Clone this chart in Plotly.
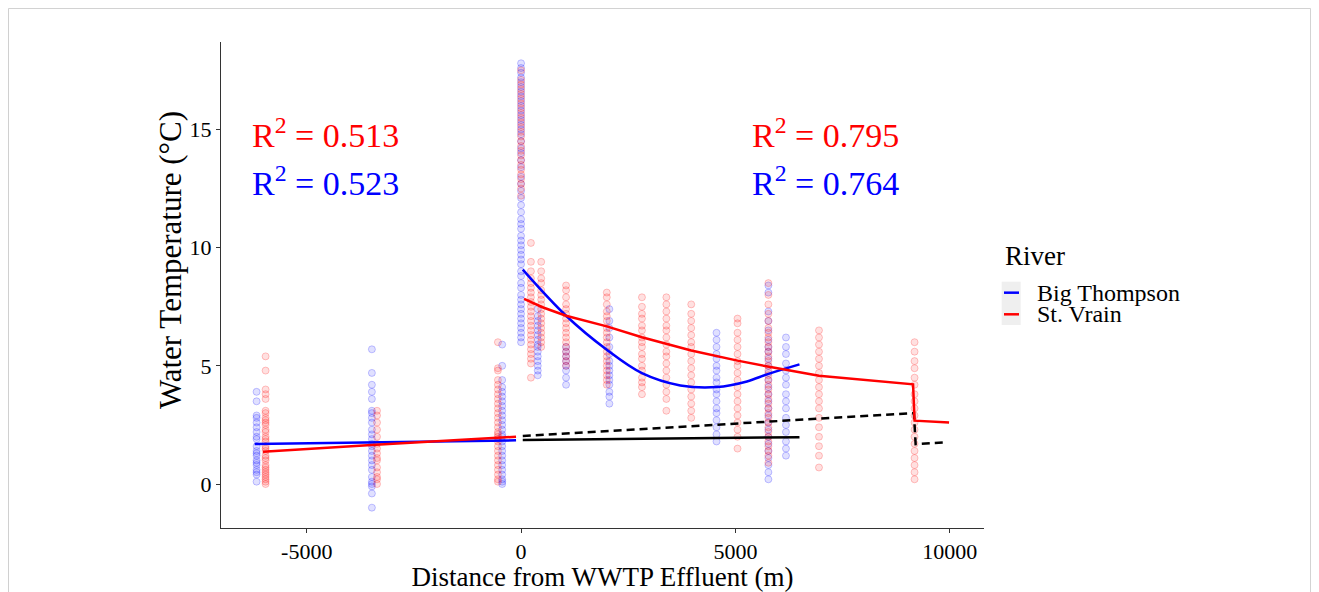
import plotly.graph_objects as go

# sampling sites (m from the WWTP effluent) and temperatures read per site
BT_DIST = [-6170, -3480, -440, 0, 390, 1050, 2060, 4560, 5770, 6180]
BT_TEMPS = [
    [3.9, 3.5, 2.9, 2.8, 2.6, 2.4, 2.2, 2.0, 1.9, 1.6, 1.4, 1.3, 1.2, 1.0, 0.9, 0.8, 0.6, 0.5, 0.4, 0.1],
    [5.7, 4.7, 4.2, 3.9, 3.6, 3.1, 3.0, 2.8, 2.6, 2.3, 2.1, 1.9, 1.7, 1.6, 1.4, 1.2, 1.0, 0.8, 0.6, 0.3,
     0.1, 0.0, -0.1, -0.4, -1.0],
    [5.9, 5.0, 4.4, 4.1, 3.9, 3.7, 3.5, 3.3, 3.1, 2.9, 2.7, 2.5, 2.3, 2.1, 2.0, 1.8, 1.6, 1.4, 1.2, 1.0,
     0.8, 0.6, 0.4, 0.2, 0.1, 0.0],
    [17.8, 17.6, 17.4, 17.2, 17.0, 16.8, 16.6, 16.4, 16.2, 16.0, 15.8, 15.6, 15.4, 15.2, 15.0, 14.8, 14.5,
     14.2, 14.0, 13.7, 13.4, 13.0, 12.7, 12.4, 12.1, 11.8, 11.5, 11.2, 11.0, 10.8, 10.5, 10.3, 10.1, 9.9,
     9.7, 9.5, 9.3, 9.0, 8.8, 8.5, 8.3, 8.0, 7.8, 7.6, 7.4, 7.2, 7.0, 6.8, 6.6, 6.4, 6.2, 6.0],
    [7.4, 7.1, 6.9, 6.7, 6.5, 6.3, 6.1, 5.9, 5.8, 5.6, 5.4, 5.2, 5.0, 4.8, 4.6],
    [5.8, 5.6, 5.4, 5.2, 5.0, 4.8, 4.5, 4.2],
    [7.4, 6.9, 6.6, 6.2, 5.8, 5.5, 5.2, 5.0, 4.8, 4.6, 4.4, 4.2, 3.9, 3.7, 3.4],
    [6.4, 6.1, 5.8, 5.5, 5.3, 5.0, 4.8, 4.5, 4.3, 4.0, 3.8, 3.5, 3.2, 3.0, 2.7, 2.4, 2.1, 1.8],
    [8.4, 8.1, 7.3, 6.9, 6.5, 6.1, 5.8, 5.6, 5.3, 5.0, 4.7, 4.4, 4.1, 3.8, 3.5, 3.2, 2.9, 2.6, 2.3, 2.0,
     1.7, 1.4, 1.1, 0.8, 0.5, 0.2],
    [6.2, 5.8, 5.5, 5.1, 4.8, 4.5, 4.2, 3.8, 3.5, 3.2, 2.8, 2.5, 2.2, 1.8, 1.5, 1.2],
]

SV_DIST = [-5960, -3360, -540, 0, 230, 470, 1050, 2000, 2820, 3390, 3970, 5050, 5770, 6950, 9180]
SV_TEMPS = [
    [5.4, 4.8, 4.0, 3.8, 3.6, 3.1, 3.0, 2.8, 2.7, 2.6, 2.5, 2.3, 2.2, 2.0, 1.9, 1.8, 1.6, 1.5, 1.4, 1.2,
     1.1, 1.0, 0.8, 0.7, 0.6, 0.5, 0.4, 0.3, 0.2, 0.1, 0.0],
    [3.1, 2.9, 2.6, 2.3, 2.0, 1.7, 1.5, 1.3, 1.1, 1.0, 0.7, 0.5, 0.3, 0.2, 0.0],
    [6.0, 4.9, 4.8, 4.4, 4.2, 4.0, 3.8, 3.6, 3.4, 3.2, 3.0, 2.8, 2.6, 2.4, 2.2, 2.1, 2.0, 1.9, 1.8, 1.6,
     1.4, 1.2, 1.0, 0.8, 0.6, 0.4, 0.2, 0.1],
    [17.5, 17.1, 16.9, 16.7, 16.5, 16.3, 16.1, 15.9, 15.7, 15.5, 15.3, 15.1, 14.9, 14.7, 14.5, 14.3, 14.1,
     13.9, 13.7, 13.5, 13.3, 13.1, 12.9, 12.7, 12.5, 12.2],
    [10.2, 9.4, 9.0, 8.7, 8.5, 8.3, 8.1, 7.9, 7.7, 7.5, 7.3, 7.1, 6.9, 6.7, 6.5, 6.3, 6.1, 5.9, 5.7, 5.5,
     5.3, 5.1, 4.5],
    [9.4, 9.0, 8.7, 8.5, 8.2, 8.0, 7.8, 7.6, 7.4, 7.2, 7.0, 6.8, 6.6, 6.4, 6.2, 6.0, 5.8],
    [8.4, 8.2, 7.9, 7.6, 7.4, 7.2, 7.0, 6.8, 6.6, 6.4, 6.2, 6.0, 5.8, 5.6, 5.4, 5.2, 5.0],
    [8.1, 7.9, 7.6, 7.3, 7.1, 6.9, 6.6, 6.4, 6.2, 6.0, 5.8, 5.6, 5.4, 5.2, 5.0, 4.8, 4.6, 4.4, 4.2],
    [7.9, 7.5, 7.2, 7.0, 6.7, 6.5, 6.2, 6.0, 5.8, 5.5, 5.3, 5.0, 4.8, 4.5, 4.3, 4.1, 3.8],
    [7.9, 7.6, 7.3, 7.0, 6.7, 6.5, 6.2, 5.9, 5.6, 5.4, 5.1, 4.8, 4.5, 4.2, 3.9, 3.6, 3.1],
    [7.6, 7.2, 6.9, 6.6, 6.3, 6.0, 5.8, 5.5, 5.2, 4.9, 4.6, 4.3, 4.0, 3.7, 3.4, 3.1, 2.8],
    [7.0, 6.8, 6.4, 6.1, 5.8, 5.5, 5.2, 5.0, 4.7, 4.4, 4.1, 3.8, 3.5, 3.2, 2.9, 2.6, 2.3, 2.0, 1.5],
    [8.5, 8.0, 7.6, 7.2, 6.9, 6.6, 6.4, 6.2, 6.0, 5.8, 5.6, 5.4, 5.2, 5.0, 4.8, 4.6, 4.4, 4.2, 4.0, 3.8,
     3.6, 3.4, 3.2, 3.0, 2.8, 2.6, 2.4, 2.2, 2.0, 1.8, 1.6, 1.4, 1.2, 0.9],
    [6.5, 6.2, 5.9, 5.6, 5.3, 5.0, 4.7, 4.4, 4.1, 3.8, 3.5, 3.2, 2.8, 2.4, 2.0, 1.6, 1.2, 0.7],
    [6.0, 5.6, 5.2, 4.9, 4.5, 4.2, 3.8, 3.5, 3.2, 2.9, 2.6, 2.3, 2.0, 1.7, 1.4, 1.1, 0.8, 0.5, 0.2],
]

# fitted lines
BT_UP_X = [-6215, -117]
BT_UP_Y = [1.69, 1.85]
SV_UP_X = [-6020, -3490, -117]
SV_UP_Y = [1.37, 1.65, 2.0]
BT_DOWN_X = [40, 1050, 2000, 2820, 3715, 4570, 5270, 5755, 6495]
BT_DOWN_Y = [9.07, 7.12, 5.68, 4.69, 4.17, 4.10, 4.34, 4.65, 5.06]
SV_DOWN_X = [70, 500, 1050, 2000, 2820, 3970, 5050, 5755, 6950, 8000, 9145, 9180, 9985]
SV_DOWN_Y = [7.83, 7.48, 7.12, 6.67, 6.21, 5.65, 5.22, 4.97, 4.58, 4.40, 4.22, 2.68, 2.60]
DASH_X = [40, 9165, 9205, 9920]
DASH_Y = [2.03, 3.0, 1.69, 1.77]
SOLID_X = [40, 6495]
SOLID_Y = [1.86, 1.98]

X_TICKS = [-5000, 0, 5000, 10000]
X_TICKTEXT = ['-5000', '0', '5000', '10000']
Y_TICKS = [0, 5, 10, 15]

R2_LABELS = [
    (-6330, 14.87, 'R<sup>2</sup> = 0.513', 'red'),
    (-6330, 12.84, 'R<sup>2</sup> = 0.523', 'blue'),
    (5350, 14.87, 'R<sup>2</sup> = 0.795', 'red'),
    (5350, 12.84, 'R<sup>2</sup> = 0.764', 'blue'),
]

RIVERS = ['Big Thompson', 'St. Vrain']
RIVER_COLORS = ['blue', 'red']

FONT = 'Liberation Serif'


def flatten(dists, temps):
    xs, ys = [], []
    for d, t in zip(dists, temps):
        xs += [d] * len(t)
        ys += t
    return xs, ys


fig = go.Figure()

# points first so the fitted lines sit on top
for dists, temps, rgb in [(BT_DIST, BT_TEMPS, '0,0,255'), (SV_DIST, SV_TEMPS, '255,0,0')]:
    xs, ys = flatten(dists, temps)
    fig.add_trace(go.Scatter(
        x=xs, y=ys, mode='markers', showlegend=False, hoverinfo='skip',
        marker=dict(size=7, color=f'rgba({rgb},0.12)', line=dict(color=f'rgba({rgb},0.22)', width=1))
    ))

fig.add_trace(go.Scatter(x=DASH_X, y=DASH_Y, mode='lines', showlegend=False,
                         line=dict(color='black', width=2.5, dash='8px,5px')))
fig.add_trace(go.Scatter(x=SOLID_X, y=SOLID_Y, mode='lines', showlegend=False,
                         line=dict(color='black', width=2.5)))

fig.add_trace(go.Scatter(x=BT_DOWN_X, y=BT_DOWN_Y, mode='lines', showlegend=False,
                         line=dict(color='blue', width=2.5, shape='spline')))
fig.add_trace(go.Scatter(x=BT_UP_X, y=BT_UP_Y, mode='lines', showlegend=False,
                         line=dict(color='blue', width=2.5)))
fig.add_trace(go.Scatter(x=SV_DOWN_X, y=SV_DOWN_Y, mode='lines', showlegend=False,
                         line=dict(color='red', width=2.5)))
fig.add_trace(go.Scatter(x=SV_UP_X, y=SV_UP_Y, mode='lines', showlegend=False,
                         line=dict(color='red', width=2.5, shape='spline')))

for x, y, txt, col in R2_LABELS:
    fig.add_annotation(x=x, y=y, text=txt, showarrow=False, xanchor='left', yanchor='middle',
                       font=dict(size=34, color=col, family=FONT))

# y title placed by hand, it sits a bit above the panel centre in the original
fig.add_annotation(x=-0.0668, y=0.5514, xref='paper', yref='paper', text='Water Temperature (°C)',
                   showarrow=False, textangle=-90, xanchor='center', yanchor='middle', font=dict(size=31))

# ggplot-style legend drawn by hand (title, grey key box, key lines, labels)
fig.add_annotation(x=1.0249, y=0.5597, xref='paper', yref='paper', text='River', showarrow=False,
                   xanchor='left', yanchor='middle', font=dict(size=27))
fig.add_shape(type='rect', xref='paper', yref='paper', x0=1.0232, x1=1.0481, y0=0.4177, y1=0.5068,
              fillcolor='#EFEFEF', line=dict(width=0), layer='below')
for i, (name, col) in enumerate(zip(RIVERS, RIVER_COLORS)):
    ky = 0.4842 - i * 0.0445
    fig.add_shape(type='line', xref='paper', yref='paper', x0=1.0262, x1=1.0459, y0=ky, y1=ky,
                  line=dict(color=col, width=2.5))
    fig.add_annotation(x=1.0668, y=ky, xref='paper', yref='paper', text=name, showarrow=False,
                       xanchor='left', yanchor='middle', font=dict(size=24))

# thin frame of the figure panel
fig.add_shape(type='rect', xref='paper', yref='paper', x0=-0.2785, x1=1.4280, y0=-0.2, y1=1.0690,
              fillcolor='rgba(0,0,0,0)', line=dict(color='#D0D0D0', width=1))

fig.update_xaxes(range=[-7000, 10800], tickvals=X_TICKS, ticktext=X_TICKTEXT, ticks='outside', ticklen=4,
                 tickcolor='#333', showline=True, linecolor='#333', linewidth=1, showgrid=False, zeroline=False,
                 automargin=False, tickfont=dict(size=22),
                 title=dict(text='Distance from WWTP Effluent (m)', font=dict(size=27), standoff=6))
fig.update_yaxes(range=[-1.86, 18.7], tickvals=Y_TICKS, ticks='outside', ticklen=4,
                 tickcolor='#333', showline=True, linecolor='#333', linewidth=1, showgrid=False, zeroline=False,
                 automargin=False, tickfont=dict(size=22))

fig.update_layout(
    width=1311, height=584,
    margin=dict(l=213, r=335, t=34, b=64),
    plot_bgcolor='white', paper_bgcolor='white',
    font=dict(family=FONT, color='black'),
    showlegend=False,
)

fig.write_html('out.html')
